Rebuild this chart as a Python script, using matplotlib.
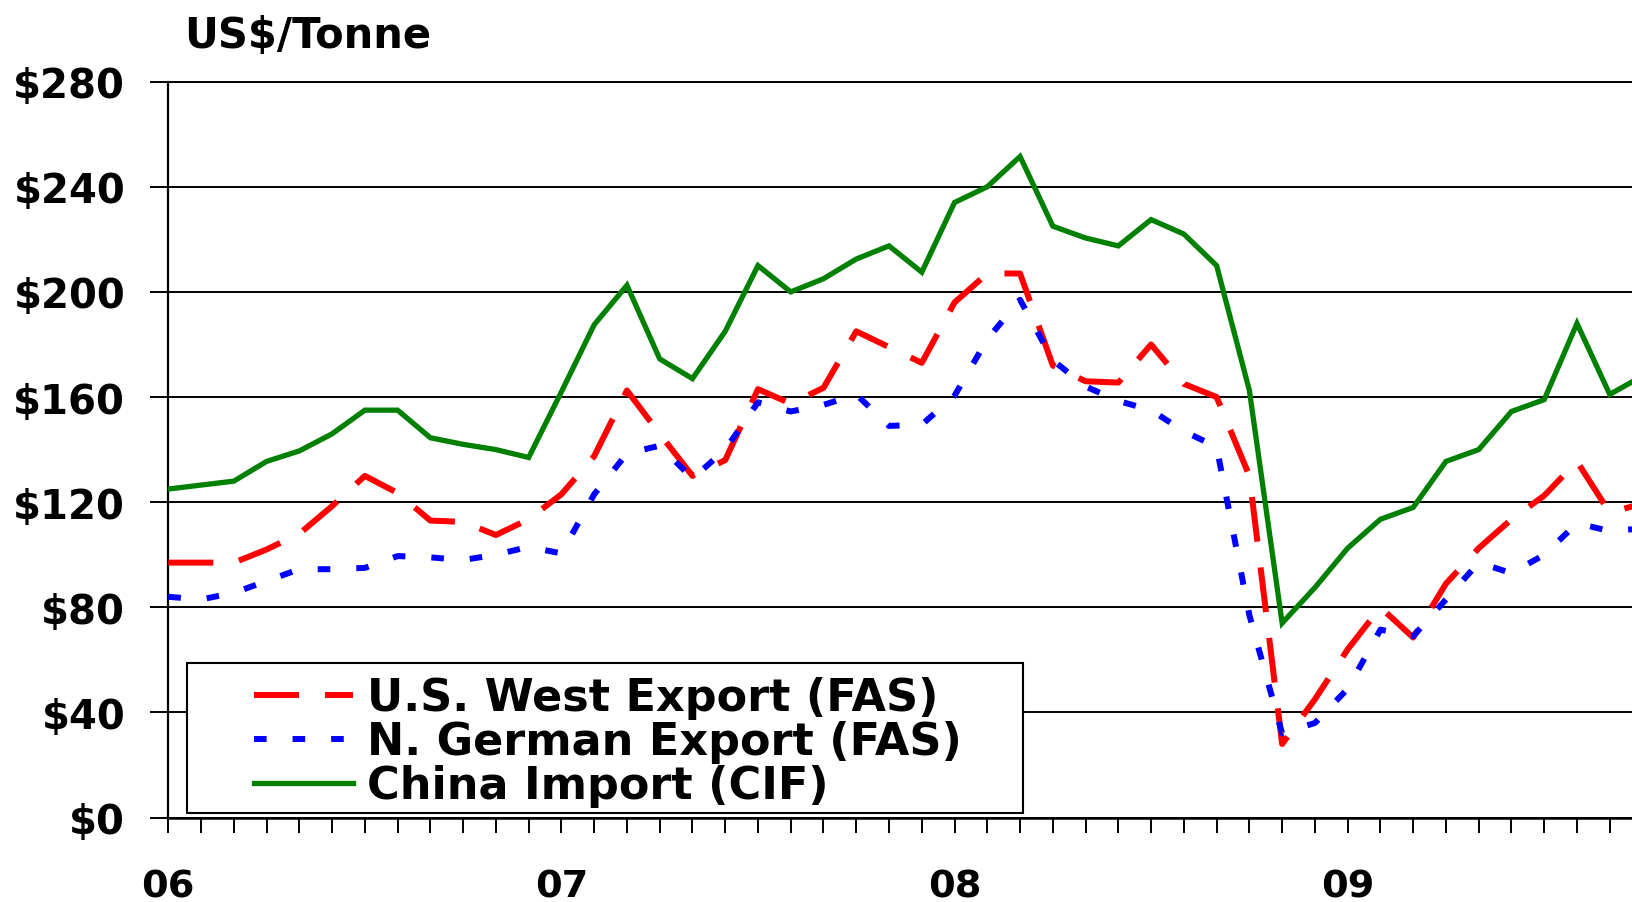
import numpy as np
import matplotlib
matplotlib.use("Agg")
import matplotlib.pyplot as plt
from matplotlib.patches import Rectangle
from matplotlib.ticker import FixedLocator

plt.rcParams['font.family'] = ['DejaVu Sans']
plt.rcParams['font.weight'] = 'bold'

# ---- data (monthly, Jan 2006 onward) ----
year_labels = ['06', '07', '08', '09']
year_positions = [0, 12, 24, 36]

us_west = [97, 97, 97, 102, 108, 118.5, 130, 123.5, 113, 112.5, 107.5, 113.5,
           123, 137.5, 162.5, 146, 130, 136, 163, 157.5, 163.5, 185, 179, 173,
           196, 207, 207, 172, 166, 165.5, 180, 165, 160, 130, 28, 45,
           64, 80, 68.5, 89, 102.5, 113.5, 122.5, 135.5, 116, 119.5]

n_german = [84, 83, 85.5, 90, 94.5, 94.5, 95, 99.5, 99, 98, 100, 103,
            100.5, 123, 138.5, 141.5, 129, 140, 158, 154.5, 157, 161, 149, 149.5,
            160.5, 182, 197, 174, 164, 158.5, 155, 147, 141, 77, 32, 36,
            49, 71.5, 69, 83, 97, 93, 100, 112, 109, 110]

china = [125, 126.5, 128, 135.5, 139.5, 146, 155, 155, 144.5, 142, 140, 137,
         162, 187.5, 202.5, 174.5, 167, 185, 210, 200, 205, 212.5, 217.5, 207.5,
         234, 240, 251.5, 225, 220.5, 217.5, 227.5, 222, 210, 162.5, 74, 87.5,
         102.5, 113.5, 118, 135.5, 140, 154.5, 159, 188, 161, 168]

series_names = ['U.S. West Export (FAS)', 'N. German Export (FAS)', 'China Import (CIF)']
y_ticks = [0, 40, 80, 120, 160, 200, 240, 280]
y_tick_labels = [r'\$0', r'\$40', r'\$80', r'\$120', r'\$160', r'\$200', r'\$240', r'\$280']

months = np.arange(len(china))

# ---- figure ----
W, H = 1633, 903
fig = plt.figure(figsize=(W / 100, H / 100), dpi=100)
left_px, top_px, bottom_px = 168.3, 82.6, 818.6
ax = fig.add_axes([left_px / W, 1 - bottom_px / H, 1 - left_px / W, (bottom_px - top_px) / H])

lw_px = 6 / 100 * 72  # 6 px
l1, = ax.plot(months, us_west, color='#FF0000', lw=lw_px, dashes=(7.5, 4.33),
              solid_capstyle='butt', dash_capstyle='butt', zorder=3)
l2, = ax.plot(months, n_german, color='#0000FF', lw=lw_px, dashes=(2.1, 4.33),
              dash_capstyle='butt', zorder=3)
l3, = ax.plot(months, china, color='#008000', lw=3.8, zorder=3,
              solid_joinstyle='miter')

ax.set_xlim(0, (W - left_px) / 32.76)
ax.set_ylim(0, 280)

ax.set_yticks(y_ticks)
ax.set_yticklabels(y_tick_labels)
ax.yaxis.grid(True, color='black', lw=1.4, zorder=1)
ax.set_axisbelow(True)

ax.set_xticks(year_positions)
ax.set_xticklabels(year_labels)
ax.xaxis.set_minor_locator(FixedLocator(np.arange(0, 45)))

ax.tick_params(axis='y', which='major', direction='out', length=13, width=1.4,
               pad=18, labelsize=29, colors='black')
ax.tick_params(axis='x', which='both', direction='out', length=10.8, width=1.4,
               colors='black')
ax.tick_params(axis='x', which='major', pad=25.5, labelsize=27.5)
for lab in ax.get_xticklabels() + ax.get_yticklabels():
    lab.set_fontweight('bold')

ax.spines['right'].set_visible(False)
ax.spines['left'].set_linewidth(1.6)
ax.spines['bottom'].set_linewidth(1.8)
ax.spines['top'].set_linewidth(1.4)

# title
fig.text(184 / W, 1 - 48.3 / H, r'US\$/Tonne', fontsize=30, fontweight='bold',
         ha='left', va='baseline')

# legend box
box_l, box_r, box_t, box_b = 187.3, 1022.5, 664.3, 814.3
fig.add_artist(Rectangle((box_l / W, 1 - box_b / H), (box_r - box_l) / W, (box_b - box_t) / H,
                         transform=fig.transFigure, facecolor='white', edgecolor='black',
                         lw=1.5, zorder=1))

fs = 32
fs_px = fs * 100 / 72
leg = fig.legend([l1, l2, l3], series_names, loc='upper left',
                 bbox_to_anchor=(254 / W, 1 - 677.5 / H), bbox_transform=fig.transFigure,
                 frameon=False, borderpad=0, borderaxespad=0,
                 handlelength=99 / fs_px, handletextpad=13.7 / fs_px,
                 labelspacing=0.02, prop={'size': fs, 'weight': 'bold'})
leg.set_zorder(5)

fig.savefig('out.png', dpi=100)
